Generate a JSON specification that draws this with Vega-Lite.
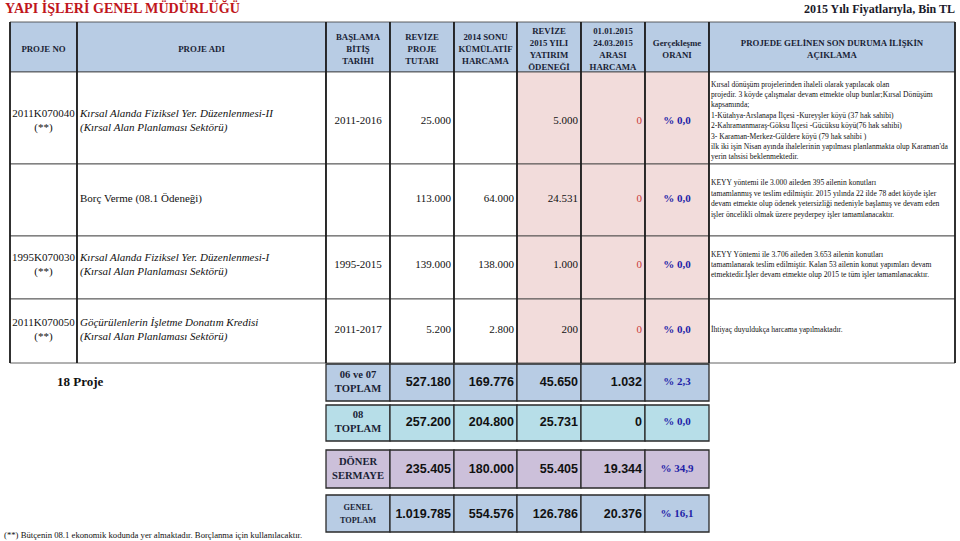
{
"$schema": "https://vega.github.io/schema/vega-lite/v6.json",
"width": 960, "height": 541, "padding": 0, "autosize": {"type": "none"},
"background": "white",
"config": {"view": {"stroke": null}, "locale": {"number": {"decimal": ",", "thousands": ".", "grouping": [3], "currency": ["", " TL"]}}, "text": {"font": "Liberation Serif"}},
"datasets": {
"cells": [
{"c":0,"c2":1,"r":0,"r2":1,"zone":"header","kind":"h","t":"PROJE NO"},
{"c":1,"c2":2,"r":0,"r2":1,"zone":"header","kind":"h","t":"PROJE ADI"},
{"c":2,"c2":3,"r":0,"r2":1,"zone":"header","kind":"h","t":"BAŞLAMA\nBİTİŞ\nTARİHİ"},
{"c":3,"c2":4,"r":0,"r2":1,"zone":"header","kind":"h","t":"REVİZE\nPROJE\nTUTARI"},
{"c":4,"c2":5,"r":0,"r2":1,"zone":"header","kind":"h","t":"2014 SONU\nKÜMÜLATİF\nHARCAMA"},
{"c":5,"c2":6,"r":0,"r2":1,"zone":"header","kind":"h","t":"REVİZE\n2015 YILI\nYATIRIM\nÖDENEĞİ"},
{"c":6,"c2":7,"r":0,"r2":1,"zone":"header","kind":"h","t":"01.01.2015\n24.03.2015\nARASI\nHARCAMA"},
{"c":7,"c2":8,"r":0,"r2":1,"zone":"header","kind":"h","t":"Gerçekleşme\nORANI"},
{"c":8,"c2":9,"r":0,"r2":1,"zone":"header","kind":"h","t":"PROJEDE GELİNEN SON DURUMA İLİŞKİN\nAÇIKLAMA"},

{"c":0,"c2":1,"r":1,"r2":2,"zone":"body","kind":"id","t":"2011K070040\n(**)"},
{"c":1,"c2":2,"r":1,"r2":2,"zone":"body","kind":"name","t":"Kırsal Alanda Fiziksel Yer. Düzenlenmesi-II\n(Kırsal Alan Planlaması Sektörü)"},
{"c":2,"c2":3,"r":1,"r2":2,"zone":"body","kind":"date","t":"2011-2016"},
{"c":3,"c2":4,"r":1,"r2":2,"zone":"body","kind":"num","v":25000},
{"c":4,"c2":5,"r":1,"r2":2,"zone":"body","kind":"num"},
{"c":5,"c2":6,"r":1,"r2":2,"zone":"budget","kind":"num","v":5000},
{"c":6,"c2":7,"r":1,"r2":2,"zone":"budget","kind":"zero","v":0},
{"c":7,"c2":8,"r":1,"r2":2,"zone":"budget","kind":"pct","t":"% 0,0"},
{"c":8,"c2":9,"r":1,"r2":2,"zone":"body","kind":"desc","t":"Kırsal dönüşüm projelerinden ihaleli olarak yapılacak olan\nprojedir. 3 köyde çalışmalar devam etmekte olup  bunlar;Kırsal Dönüşüm\nkapsamında;\n1-Kütahya-Arslanapa İlçesi -Kureyşler köyü (37 hak sahibi)\n2-Kahramanmaraş-Göksu İlçesi -Gücüksu köyü(76 hak sahibi)\n3- Karaman-Merkez-Güldere köyü (79 hak sahibi )\nilk iki işin Nisan ayında ihalelerinin yapılması planlanmakta olup Karaman'da\nyerin tahsisi beklenmektedir."},

{"c":0,"c2":1,"r":2,"r2":3,"zone":"body","kind":"id","t":""},
{"c":1,"c2":2,"r":2,"r2":3,"zone":"body","kind":"plain","t":"Borç Verme (08.1 Ödeneği)"},
{"c":2,"c2":3,"r":2,"r2":3,"zone":"body","kind":"date","t":""},
{"c":3,"c2":4,"r":2,"r2":3,"zone":"body","kind":"num","v":113000},
{"c":4,"c2":5,"r":2,"r2":3,"zone":"body","kind":"num","v":64000},
{"c":5,"c2":6,"r":2,"r2":3,"zone":"budget","kind":"num","v":24531},
{"c":6,"c2":7,"r":2,"r2":3,"zone":"budget","kind":"zero","v":0},
{"c":7,"c2":8,"r":2,"r2":3,"zone":"budget","kind":"pct","t":"% 0,0"},
{"c":8,"c2":9,"r":2,"r2":3,"zone":"body","kind":"desc","t":"KEYY yöntemi ile 3.000 aileden 395 ailenin konutları\ntamamlanmış ve teslim edilmiştir. 2015 yılında 22 ilde 78 adet köyde işler\ndevam etmekte olup ödenek yetersizliği nedeniyle başlamış ve devam eden\nişler öncelikli olmak üzere  peyderpey işler tamamlanacaktır."},

{"c":0,"c2":1,"r":3,"r2":4,"zone":"body","kind":"id","t":"1995K070030\n(**)"},
{"c":1,"c2":2,"r":3,"r2":4,"zone":"body","kind":"name","t":"Kırsal Alanda Fiziksel Yer. Düzenlenmesi-I\n(Kırsal Alan Planlaması Sektörü)"},
{"c":2,"c2":3,"r":3,"r2":4,"zone":"body","kind":"date","t":"1995-2015"},
{"c":3,"c2":4,"r":3,"r2":4,"zone":"body","kind":"num","v":139000},
{"c":4,"c2":5,"r":3,"r2":4,"zone":"body","kind":"num","v":138000},
{"c":5,"c2":6,"r":3,"r2":4,"zone":"budget","kind":"num","v":1000},
{"c":6,"c2":7,"r":3,"r2":4,"zone":"budget","kind":"zero","v":0},
{"c":7,"c2":8,"r":3,"r2":4,"zone":"budget","kind":"pct","t":"% 0,0"},
{"c":8,"c2":9,"r":3,"r2":4,"zone":"body","kind":"desc","t":"KEYY Yöntemi ile 3.706 aileden 3.653 ailenin konutları\ntamamlanarak teslim edilmiştir. Kalan 53 ailenin konut yapımları devam\netmektedir.İşler devam etmekte olup 2015 te tüm işler tamamlanacaktır."},

{"c":0,"c2":1,"r":4,"r2":5,"zone":"body","kind":"id","t":"2011K070050\n(**)"},
{"c":1,"c2":2,"r":4,"r2":5,"zone":"body","kind":"name","t":"Göçürülenlerin İşletme Donatım Kredisi\n(Kırsal Alan Planlaması Sektörü)"},
{"c":2,"c2":3,"r":4,"r2":5,"zone":"body","kind":"date","t":"2011-2017"},
{"c":3,"c2":4,"r":4,"r2":5,"zone":"body","kind":"num","v":5200},
{"c":4,"c2":5,"r":4,"r2":5,"zone":"body","kind":"num","v":2800},
{"c":5,"c2":6,"r":4,"r2":5,"zone":"budget","kind":"num","v":200},
{"c":6,"c2":7,"r":4,"r2":5,"zone":"budget","kind":"zero","v":0},
{"c":7,"c2":8,"r":4,"r2":5,"zone":"budget","kind":"pct","t":"% 0,0"},
{"c":8,"c2":9,"r":4,"r2":5,"zone":"body","kind":"desc","t":"İhtiyaç duyuldukça harcama yapılmaktadır."},

{"c":2,"c2":3,"r":6,"r2":7,"zone":"t0607","kind":"blabel","t":"06 ve 07\nTOPLAM"},
{"c":3,"c2":4,"r":6,"r2":7,"zone":"t0607","kind":"bnum","v":527180},
{"c":4,"c2":5,"r":6,"r2":7,"zone":"t0607","kind":"bnum","v":169776},
{"c":5,"c2":6,"r":6,"r2":7,"zone":"t0607","kind":"bnum","v":45650},
{"c":6,"c2":7,"r":6,"r2":7,"zone":"t0607","kind":"bnum","v":1032},
{"c":7,"c2":8,"r":6,"r2":7,"zone":"t0607","kind":"bpct","t":"% 2,3"},

{"c":2,"c2":3,"r":8,"r2":9,"zone":"t08","kind":"blabel","t":"08\nTOPLAM"},
{"c":3,"c2":4,"r":8,"r2":9,"zone":"t08","kind":"bnum","v":257200},
{"c":4,"c2":5,"r":8,"r2":9,"zone":"t08","kind":"bnum","v":204800},
{"c":5,"c2":6,"r":8,"r2":9,"zone":"t08","kind":"bnum","v":25731},
{"c":6,"c2":7,"r":8,"r2":9,"zone":"t08","kind":"bnum","v":0},
{"c":7,"c2":8,"r":8,"r2":9,"zone":"t08","kind":"bpct","t":"% 0,0"},

{"c":2,"c2":3,"r":10,"r2":11,"zone":"doner","kind":"blabel","t":"DÖNER\nSERMAYE"},
{"c":3,"c2":4,"r":10,"r2":11,"zone":"doner","kind":"bnum","v":235405},
{"c":4,"c2":5,"r":10,"r2":11,"zone":"doner","kind":"bnum","v":180000},
{"c":5,"c2":6,"r":10,"r2":11,"zone":"doner","kind":"bnum","v":55405},
{"c":6,"c2":7,"r":10,"r2":11,"zone":"doner","kind":"bnum","v":19344},
{"c":7,"c2":8,"r":10,"r2":11,"zone":"doner","kind":"bpct","t":"% 34,9"},

{"c":2,"c2":3,"r":12,"r2":13,"zone":"genel","kind":"blabel2","t":"GENEL\nTOPLAM"},
{"c":3,"c2":4,"r":12,"r2":13,"zone":"genel","kind":"bnum","v":1019785},
{"c":4,"c2":5,"r":12,"r2":13,"zone":"genel","kind":"bnum","v":554576},
{"c":5,"c2":6,"r":12,"r2":13,"zone":"genel","kind":"bnum","v":126786},
{"c":6,"c2":7,"r":12,"r2":13,"zone":"genel","kind":"bnum","v":20376},
{"c":7,"c2":8,"r":12,"r2":13,"zone":"genel","kind":"bpct","t":"% 16,1"}
],
"vrules": [{"c":0},{"c":1},{"c":2},{"c":3},{"c":4},{"c":5},{"c":6},{"c":7},{"c":8},{"c":9}],
"notes": [
{"kind":"title","c":-1,"c2":-1,"r":-1,"t":"YAPI İŞLERİ GENEL MÜDÜRLÜĞÜ"},
{"kind":"unit","c":9,"c2":9,"r":-1,"t":"2015 Yılı Fiyatlarıyla, Bin TL"},
{"kind":"count","c":0,"c2":0,"r":6,"t":"18  Proje"},
{"kind":"note","c":-1,"c2":-1,"r":14,"t":"(**) Bütçenin 08.1 ekonomik kodunda yer almaktadır. Borçlanma için kullanılacaktır."}
]
},
"layer": [
{"data":{"name":"cells"},"transform":[{"filter":"datum.r < 5"}],
 "mark":{"type":"rect","stroke":"#3a3a3a","strokeWidth":0.8},
 "encoding":{
  "x":{"field":"c","type":"quantitative","axis":null,"scale":{"domain":[-1,0,1,2,3,4,5,6,7,8,9,10],"range":[0,10,77,326,390,454,517,581,645,709,955,960],"nice":false,"zero":false}},
  "x2":{"field":"c2"},
  "y":{"field":"r","type":"quantitative","axis":null,"scale":{"domain":[0,1,2,3,4,5,6,7,8,9,10,11,12,13],"range":[22,72,164,236,299,363,364,401,405,441,450,488,495,532],"nice":false,"zero":false}},
  "y2":{"field":"r2"},
  "fill":{"field":"zone","type":"nominal","legend":null,"scale":{"domain":["header","body","budget","t0607","t08","doner","genel"],"range":["#b8cce4","#ffffff","#f2dcdb","#b8cce4","#b7dee8","#ccc0da","#b8cce4"]}}}},
{"data":{"name":"cells"},"transform":[{"filter":"datum.r >= 6"}],
 "mark":{"type":"rect","stroke":"#2a2a2a","strokeWidth":1.3},
 "encoding":{
  "x":{"field":"c","type":"quantitative","axis":null,"scale":{"domain":[-1,0,1,2,3,4,5,6,7,8,9,10],"range":[0,10,77,326,390,454,517,581,645,709,955,960],"nice":false,"zero":false}},
  "x2":{"field":"c2"},
  "y":{"field":"r","type":"quantitative","axis":null,"scale":{"domain":[0,1,2,3,4,5,6,7,8,9,10,11,12,13],"range":[22,72,164,236,299,363,364,401,405,441,450,488,495,532],"nice":false,"zero":false}},
  "y2":{"field":"r2"},
  "fill":{"field":"zone","type":"nominal","legend":null,"scale":{"domain":["header","body","budget","t0607","t08","doner","genel"],"range":["#b8cce4","#ffffff","#f2dcdb","#b8cce4","#b7dee8","#ccc0da","#b8cce4"]}}}},
{"data":{"name":"vrules"},
 "mark":{"type":"rule","stroke":"#1a1a1a","strokeWidth":1.7},
 "encoding":{
  "x":{"field":"c","type":"quantitative","axis":null,"scale":{"domain":[-1,0,1,2,3,4,5,6,7,8,9,10],"range":[0,10,77,326,390,454,517,581,645,709,955,960],"nice":false,"zero":false}},
  "y":{"datum":0,"type":"quantitative","axis":null,"scale":{"domain":[0,1,2,3,4,5,6,7,8,9,10,11,12,13],"range":[22,72,164,236,299,363,364,401,405,441,450,488,495,532],"nice":false,"zero":false}},
  "y2":{"datum":5}}},
{"data":{"name":"cells"},"transform":[{"filter":"datum.kind == 'h'"}],
 "mark":{"type":"text","font":"Liberation Serif","fontWeight":"bold","fontSize":8.8,"lineHeight":11.8,"lineBreak":"\n","align":"center","baseline":"middle","color":"#1a1f36","dy":{"expr":"-(length(split(datum.t, '\\n')) - 1) * 5.9"}},
 "encoding":{
  "x":{"field":"c","type":"quantitative","axis":null,"scale":{"domain":[0,1,2,3,4,5,6,7,8],"range":[43.5,201.5,358,422,485.5,549,613,677,832],"nice":false,"zero":false}},
  "y":{"field":"r","type":"quantitative","axis":null,"scale":{"domain":[-1,0,1,2,3,4,6,8,10,12,14],"range":[9,49,121,199,265,330,382,422,469,514,535],"nice":false,"zero":false}},
  "text":{"field":"t"}}},
{"data":{"name":"cells"},"transform":[{"filter":"datum.kind == 'id' || datum.kind == 'date'"}],
 "mark":{"type":"text","font":"Liberation Serif","fontSize":11,"lineHeight":14,"lineBreak":"\n","align":"center","baseline":"middle","color":"#111111","dy":{"expr":"-(length(split(datum.t, '\\n')) - 1) * 7"}},
 "encoding":{
  "x":{"field":"c","type":"quantitative","axis":null,"scale":{"domain":[0,1,2,3,4,5,6,7,8],"range":[43.5,201.5,358,422,485.5,549,613,677,832],"nice":false,"zero":false}},
  "y":{"field":"r","type":"quantitative","axis":null,"scale":{"domain":[-1,0,1,2,3,4,6,8,10,12,14],"range":[9,49,121,199,265,330,382,422,469,514,535],"nice":false,"zero":false}},
  "text":{"field":"t"}}},
{"data":{"name":"cells"},"transform":[{"filter":"datum.kind == 'name'"}],
 "mark":{"type":"text","font":"Liberation Serif","fontStyle":"italic","fontSize":11,"lineHeight":14,"lineBreak":"\n","align":"left","baseline":"middle","dx":3,"color":"#111111","dy":{"expr":"-(length(split(datum.t, '\\n')) - 1) * 7"}},
 "encoding":{
  "x":{"field":"c","type":"quantitative","axis":null,"scale":{"domain":[-1,0,1,2,3,4,5,6,7,8,9,10],"range":[0,10,77,326,390,454,517,581,645,709,955,960],"nice":false,"zero":false}},
  "y":{"field":"r","type":"quantitative","axis":null,"scale":{"domain":[-1,0,1,2,3,4,6,8,10,12,14],"range":[9,49,121,199,265,330,382,422,469,514,535],"nice":false,"zero":false}},
  "text":{"field":"t"}}},
{"data":{"name":"cells"},"transform":[{"filter":"datum.kind == 'plain'"}],
 "mark":{"type":"text","font":"Liberation Serif","fontSize":11,"align":"left","baseline":"middle","dx":3,"color":"#111111"},
 "encoding":{
  "x":{"field":"c","type":"quantitative","axis":null,"scale":{"domain":[-1,0,1,2,3,4,5,6,7,8,9,10],"range":[0,10,77,326,390,454,517,581,645,709,955,960],"nice":false,"zero":false}},
  "y":{"field":"r","type":"quantitative","axis":null,"scale":{"domain":[-1,0,1,2,3,4,6,8,10,12,14],"range":[9,49,121,199,265,330,382,422,469,514,535],"nice":false,"zero":false}},
  "text":{"field":"t"}}},
{"data":{"name":"cells"},"transform":[{"filter":"datum.kind == 'num' && isValid(datum.v)"}],
 "mark":{"type":"text","font":"Liberation Serif","fontSize":11,"align":"right","baseline":"middle","dx":-3,"color":"#111111"},
 "encoding":{
  "x":{"field":"c2","type":"quantitative","axis":null,"scale":{"domain":[-1,0,1,2,3,4,5,6,7,8,9,10],"range":[0,10,77,326,390,454,517,581,645,709,955,960],"nice":false,"zero":false}},
  "y":{"field":"r","type":"quantitative","axis":null,"scale":{"domain":[-1,0,1,2,3,4,6,8,10,12,14],"range":[9,49,121,199,265,330,382,422,469,514,535],"nice":false,"zero":false}},
  "text":{"field":"v","type":"quantitative","format":","}}},
{"data":{"name":"cells"},"transform":[{"filter":"datum.kind == 'zero'"}],
 "mark":{"type":"text","font":"Liberation Serif","fontSize":11,"align":"right","baseline":"middle","dx":-3,"color":"#c93a3a"},
 "encoding":{
  "x":{"field":"c2","type":"quantitative","axis":null,"scale":{"domain":[-1,0,1,2,3,4,5,6,7,8,9,10],"range":[0,10,77,326,390,454,517,581,645,709,955,960],"nice":false,"zero":false}},
  "y":{"field":"r","type":"quantitative","axis":null,"scale":{"domain":[-1,0,1,2,3,4,6,8,10,12,14],"range":[9,49,121,199,265,330,382,422,469,514,535],"nice":false,"zero":false}},
  "text":{"field":"v","type":"quantitative","format":","}}},
{"data":{"name":"cells"},"transform":[{"filter":"datum.kind == 'pct' || datum.kind == 'bpct'"}],
 "mark":{"type":"text","font":"Liberation Serif","fontWeight":"bold","fontSize":11,"align":"center","baseline":"middle","color":"#1f1fa8"},
 "encoding":{
  "x":{"field":"c","type":"quantitative","axis":null,"scale":{"domain":[0,1,2,3,4,5,6,7,8],"range":[43.5,201.5,358,422,485.5,549,613,677,832],"nice":false,"zero":false}},
  "y":{"field":"r","type":"quantitative","axis":null,"scale":{"domain":[-1,0,1,2,3,4,6,8,10,12,14],"range":[9,49,121,199,265,330,382,422,469,514,535],"nice":false,"zero":false}},
  "text":{"field":"t"}}},
{"data":{"name":"cells"},"transform":[{"filter":"datum.kind == 'desc'"}],
 "mark":{"type":"text","font":"Liberation Serif","fontSize":7.6,"lineHeight":10.4,"lineBreak":"\n","align":"left","baseline":"middle","dx":2,"color":"#111111","dy":{"expr":"-(length(split(datum.t, '\\n')) - 1) * 5.2"}},
 "encoding":{
  "x":{"field":"c","type":"quantitative","axis":null,"scale":{"domain":[-1,0,1,2,3,4,5,6,7,8,9,10],"range":[0,10,77,326,390,454,517,581,645,709,955,960],"nice":false,"zero":false}},
  "y":{"field":"r","type":"quantitative","axis":null,"scale":{"domain":[-1,0,1,2,3,4,6,8,10,12,14],"range":[9,49,121,199,265,330,382,422,469,514,535],"nice":false,"zero":false}},
  "text":{"field":"t"}}},
{"data":{"name":"cells"},"transform":[{"filter":"datum.kind == 'blabel'"}],
 "mark":{"type":"text","font":"Liberation Serif","fontWeight":"bold","fontSize":10.6,"lineHeight":14,"lineBreak":"\n","align":"center","baseline":"middle","color":"#1a1f36","dy":-7},
 "encoding":{
  "x":{"field":"c","type":"quantitative","axis":null,"scale":{"domain":[0,1,2,3,4,5,6,7,8],"range":[43.5,201.5,358,422,485.5,549,613,677,832],"nice":false,"zero":false}},
  "y":{"field":"r","type":"quantitative","axis":null,"scale":{"domain":[-1,0,1,2,3,4,6,8,10,12,14],"range":[9,49,121,199,265,330,382,422,469,514,535],"nice":false,"zero":false}},
  "text":{"field":"t"}}},
{"data":{"name":"cells"},"transform":[{"filter":"datum.kind == 'blabel2'"}],
 "mark":{"type":"text","font":"Liberation Serif","fontWeight":"bold","fontSize":8.3,"lineHeight":13,"lineBreak":"\n","align":"center","baseline":"middle","color":"#1a1f36","dy":-6.5},
 "encoding":{
  "x":{"field":"c","type":"quantitative","axis":null,"scale":{"domain":[0,1,2,3,4,5,6,7,8],"range":[43.5,201.5,358,422,485.5,549,613,677,832],"nice":false,"zero":false}},
  "y":{"field":"r","type":"quantitative","axis":null,"scale":{"domain":[-1,0,1,2,3,4,6,8,10,12,14],"range":[9,49,121,199,265,330,382,422,469,514,535],"nice":false,"zero":false}},
  "text":{"field":"t"}}},
{"data":{"name":"cells"},"transform":[{"filter":"datum.kind == 'bnum'"}],
 "mark":{"type":"text","font":"Liberation Sans","fontWeight":"bold","fontSize":12.5,"align":"right","baseline":"middle","dx":-3,"color":"#111111"},
 "encoding":{
  "x":{"field":"c2","type":"quantitative","axis":null,"scale":{"domain":[-1,0,1,2,3,4,5,6,7,8,9,10],"range":[0,10,77,326,390,454,517,581,645,709,955,960],"nice":false,"zero":false}},
  "y":{"field":"r","type":"quantitative","axis":null,"scale":{"domain":[-1,0,1,2,3,4,6,8,10,12,14],"range":[9,49,121,199,265,330,382,422,469,514,535],"nice":false,"zero":false}},
  "text":{"field":"v","type":"quantitative","format":","}}},
{"data":{"name":"notes"},"transform":[{"filter":"datum.kind == 'title'"}],
 "mark":{"type":"text","font":"Liberation Serif","fontWeight":"bold","fontSize":14.1,"align":"left","baseline":"middle","dx":5,"color":"#c0161c"},
 "encoding":{
  "x":{"field":"c","type":"quantitative","axis":null,"scale":{"domain":[-1,0,1,2,3,4,5,6,7,8,9,10],"range":[0,10,77,326,390,454,517,581,645,709,955,960],"nice":false,"zero":false}},
  "y":{"field":"r","type":"quantitative","axis":null,"scale":{"domain":[-1,0,1,2,3,4,6,8,10,12,14],"range":[9,49,121,199,265,330,382,422,469,514,535],"nice":false,"zero":false}},
  "text":{"field":"t"}}},
{"data":{"name":"notes"},"transform":[{"filter":"datum.kind == 'unit'"}],
 "mark":{"type":"text","font":"Liberation Serif","fontWeight":"bold","fontSize":12,"align":"right","baseline":"middle","color":"#1a1a2a"},
 "encoding":{
  "x":{"field":"c2","type":"quantitative","axis":null,"scale":{"domain":[-1,0,1,2,3,4,5,6,7,8,9,10],"range":[0,10,77,326,390,454,517,581,645,709,955,960],"nice":false,"zero":false}},
  "y":{"field":"r","type":"quantitative","axis":null,"scale":{"domain":[-1,0,1,2,3,4,6,8,10,12,14],"range":[9,49,121,199,265,330,382,422,469,514,535],"nice":false,"zero":false}},
  "text":{"field":"t"}}},
{"data":{"name":"notes"},"transform":[{"filter":"datum.kind == 'count'"}],
 "mark":{"type":"text","font":"Liberation Serif","fontWeight":"bold","fontSize":13,"align":"left","baseline":"middle","dx":47,"color":"#111111"},
 "encoding":{
  "x":{"field":"c","type":"quantitative","axis":null,"scale":{"domain":[-1,0,1,2,3,4,5,6,7,8,9,10],"range":[0,10,77,326,390,454,517,581,645,709,955,960],"nice":false,"zero":false}},
  "y":{"field":"r","type":"quantitative","axis":null,"scale":{"domain":[-1,0,1,2,3,4,6,8,10,12,14],"range":[9,49,121,199,265,330,382,422,469,514,535],"nice":false,"zero":false}},
  "text":{"field":"t"}}},
{"data":{"name":"notes"},"transform":[{"filter":"datum.kind == 'note'"}],
 "mark":{"type":"text","font":"Liberation Serif","fontSize":8.7,"align":"left","baseline":"middle","dx":4,"color":"#111111"},
 "encoding":{
  "x":{"field":"c","type":"quantitative","axis":null,"scale":{"domain":[-1,0,1,2,3,4,5,6,7,8,9,10],"range":[0,10,77,326,390,454,517,581,645,709,955,960],"nice":false,"zero":false}},
  "y":{"field":"r","type":"quantitative","axis":null,"scale":{"domain":[-1,0,1,2,3,4,6,8,10,12,14],"range":[9,49,121,199,265,330,382,422,469,514,535],"nice":false,"zero":false}},
  "text":{"field":"t"}}}
],
"resolve": {"scale": {"x": "independent", "y": "independent", "fill": "independent"}}
}
